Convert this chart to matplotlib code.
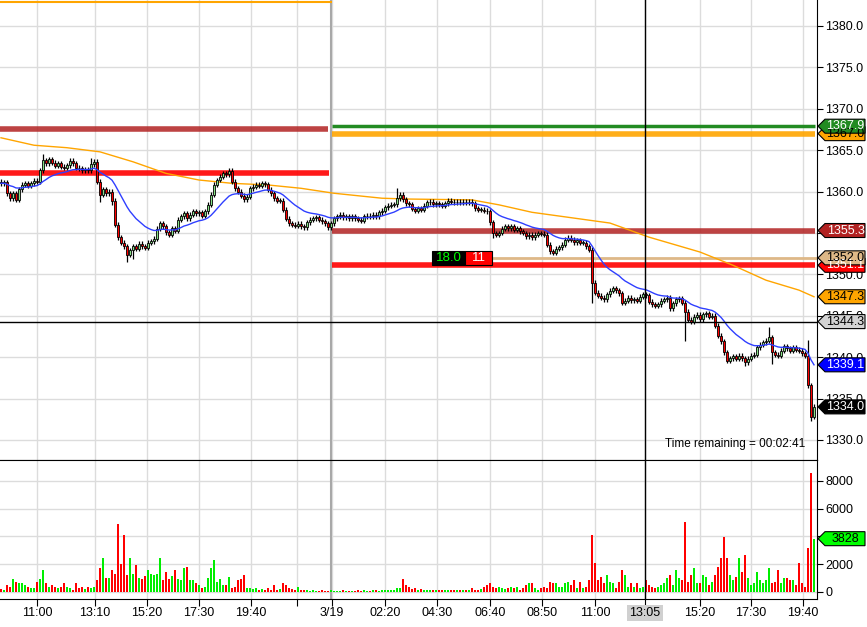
import matplotlib
matplotlib.use("Agg")
import matplotlib.pyplot as plt
import matplotlib.transforms as mtrans
from matplotlib.patches import Polygon, Rectangle
import numpy as np
import pandas as pd

plt.rcParams['font.family'] = ['Liberation Sans', 'DejaVu Sans']
plt.rcParams['font.size'] = 9

# ---- data (one candle per slot) ----
first_open = 1361.2
closes = [
    1361.0, 1361.1, 1359.8, 1359.2, 1359.8, 1359.0, 1360.3, 1360.8, 1361.0, 1360.7,
    1361.0, 1361.3, 1361.2, 1362.6, 1363.8, 1363.4, 1363.9, 1363.5, 1363.1, 1363.4,
    1363.0, 1362.9, 1363.2, 1363.7, 1363.4, 1362.9, 1362.8, 1362.6, 1362.7, 1362.6,
    1363.3, 1363.6, 1361.2, 1359.6, 1360.3, 1359.8, 1360.0, 1358.9, 1356.0, 1354.5,
    1353.8, 1353.4, 1352.4, 1352.9, 1353.4, 1353.1, 1353.7, 1353.4, 1353.2, 1353.8,
    1354.0, 1354.3, 1355.5, 1356.2, 1355.8, 1355.1, 1354.8, 1355.6, 1355.3, 1356.6,
    1357.0, 1357.4, 1356.8, 1357.2, 1357.6, 1357.4, 1357.5, 1357.1, 1357.6, 1358.4,
    1359.6, 1360.8, 1361.4, 1361.8, 1362.2, 1362.1, 1362.5, 1361.2, 1360.4, 1360.0,
    1359.5, 1359.1, 1359.4, 1360.4, 1360.6, 1360.8, 1360.7, 1361.0, 1360.9, 1360.2,
    1359.8, 1359.2, 1358.9, 1358.9, 1357.8, 1356.7, 1356.2, 1356.0, 1355.9, 1356.1,
    1355.8, 1355.7, 1356.3, 1356.6, 1356.8, 1356.9, 1356.6, 1356.4, 1356.2, 1355.7,
    1356.2, 1356.8, 1357.0, 1357.2, 1356.9, 1357.0, 1356.8, 1357.0, 1356.8, 1356.6,
    1356.5, 1357.0, 1357.1, 1357.0, 1357.2, 1357.0, 1357.5, 1357.7, 1358.1, 1358.3,
    1358.4, 1358.5, 1359.2, 1359.6, 1359.1, 1358.6, 1358.5, 1357.9, 1357.7, 1358.0,
    1357.8, 1358.3, 1358.7, 1358.8, 1358.5, 1358.6, 1358.5, 1358.3, 1358.6, 1358.9,
    1358.8, 1358.7, 1358.8, 1358.7, 1358.8, 1358.7, 1358.8, 1358.6, 1358.0, 1357.8,
    1357.8, 1357.7, 1357.6, 1356.3, 1355.0, 1354.8, 1355.0, 1355.5, 1355.8, 1355.6,
    1355.8, 1355.4, 1355.6, 1355.2, 1355.0, 1354.6, 1354.8, 1354.5, 1354.8, 1355.0,
    1354.9, 1354.8, 1353.6, 1352.8, 1352.6, 1353.1, 1353.3, 1353.6, 1354.2, 1354.4,
    1354.2, 1353.9, 1354.1, 1353.8, 1353.8, 1353.4, 1353.0, 1349.0, 1347.8, 1347.4,
    1347.2, 1347.0, 1347.6, 1348.0, 1348.3, 1348.1, 1347.7, 1346.6, 1346.8, 1347.2,
    1346.9, 1347.0, 1346.8, 1347.3, 1347.6, 1347.5, 1346.7, 1346.4, 1346.2, 1346.4,
    1346.8, 1347.0, 1347.2, 1345.9, 1346.5, 1347.0, 1347.1, 1346.6, 1345.5, 1344.5,
    1344.3, 1344.9, 1345.1, 1344.6, 1345.2, 1345.3, 1344.9, 1345.0, 1343.8, 1342.6,
    1341.9, 1340.6, 1339.6, 1339.9, 1340.1, 1339.8, 1340.2, 1339.9, 1339.4, 1339.8,
    1340.2, 1340.3, 1341.2, 1341.5, 1341.8, 1342.0, 1342.4, 1340.6, 1340.3, 1340.2,
    1340.8, 1341.3, 1341.1, 1340.8, 1341.2, 1340.9, 1340.8, 1340.5, 1340.2, 1336.6,
    1332.8, 1334.0,
]
# candles whose wick reaches well past the body: index -> (high, low)
long_wicks = {
    14: (1364.6, None), 30: (1364.0, None), 33: (None, 1358.7), 37: (None, 1358.4),
    42: (None, 1351.5), 44: (None, 1351.9), 76: (1362.8, None), 132: (1360.4, None),
    164: (None, 1354.4), 184: (None, 1352.3), 197: (None, 1346.6), 228: (None, 1342.0),
    248: (None, 1338.9), 256: (1343.6, None), 257: (None, 1339.2), 269: (1342.1, None),
    270: (None, 1332.3),
}
volumes = [
    200, 150, 450, 350, 950, 700, 600, 600, 450, 350, 250, 250,
    700, 950, 1550, 600, 350, 480, 360, 240, 360, 600,
    360, 240, 120, 600, 300, 360, 200, 360, 300, 360,
    850, 1680, 2400, 1000, 960, 1560, 1300, 4900, 2000, 4100,
    1200, 2400, 1300, 1900, 1000, 950, 1100, 1600, 1300, 1200,
    1300, 2400, 850, 1400, 950, 1100, 1550, 950, 850, 1700,
    1800, 850, 850, 600, 480, 240, 360, 960, 1700, 2280,
    720, 950, 480, 480, 1080, 240, 360, 850, 950, 1200,
    300, 250, 200, 240, 150, 200, 150, 250, 120, 500, 150, 200, 600, 480, 250, 200, 150, 360,
    150, 120, 100, 80, 100, 60, 80, 100, 60, 80, 120, 60, 80, 60, 100, 80, 60, 80, 60, 100,
    80, 100, 80, 60, 100, 120, 80, 100, 120, 150, 120, 150, 240,
    240, 900, 480, 360, 200, 240, 120, 200, 120, 120,
    150, 120, 150, 150, 120, 100, 150, 120, 120, 100, 150, 120,
    150, 100, 300, 150, 120, 200, 360, 480, 600, 360,
    240, 360, 240, 200, 240, 360, 240, 360, 150, 240,
    480, 600, 600, 240, 150, 240, 360, 240, 720, 600,
    600, 360, 360, 600, 720, 480, 840, 240, 720, 240,
    360, 840, 4100, 2100, 840, 1080, 600, 1200, 720, 600,
    300, 720, 1560, 1200, 360, 600, 360, 600, 240, 360,
    840, 480, 360, 240, 360, 480, 600, 960, 1200, 480,
    1560, 960, 840, 5040, 720, 1200, 1680, 600, 600, 1200,
    1080, 480, 720, 1200, 1800, 2400, 3960, 2400, 1200, 840,
    1080, 2400, 1440, 2640, 960, 480, 600, 1440, 840, 600,
    840, 1680, 600, 720, 1560, 600, 960, 960, 840, 840,
    480, 2100, 600, 360, 3120, 8590, 3828,
]
# slow moving average, read at a handful of candles
slow_ma_idx = [0, 11, 22, 33, 44, 55, 66, 77, 89, 100, 111, 127, 136, 157, 166, 177, 189, 203, 216, 233, 244, 255, 266, 271]
slow_ma_vals = [1366.5, 1365.6, 1365.3, 1364.8, 1363.6, 1362.2, 1361.4, 1361.0, 1360.8, 1360.4,
                1359.8, 1359.2, 1359.1, 1359.0, 1358.4, 1357.5, 1356.9, 1356.2, 1354.5, 1352.7,
                1351.1, 1349.3, 1348.1, 1347.3]

tick_labels = ['11:00', '13:10', '15:20', '17:30', '19:40', '', '3/19', '02:20', '04:30',
               '06:40', '08:50', '11:00', '13:05', '15:20', '17:30', '19:40']
tick_pos = [12.0, 31.3, 48.7, 66.0, 83.3, 98.7, 110.3, 128.0, 145.3, 163.0, 180.3, 198.0,
            214.7, 233.0, 250.0, 267.3]

# horizontal levels: day 1 (left) and day 2 (right)
day1_levels = [1367.5, 1362.3]
day2_levels = [1367.0, 1367.9, 1355.3, 1351.1]
zone_price = 1352.0
cursor_price = 1344.3
cursor_bar = 214.7
session_break = 110.0
stat_left, stat_right = '18.0', '11'

# ---- derived ----
n = min(len(closes), len(volumes))
closes = np.array(closes[:n])
volumes = np.array(volumes[:n])
opens = np.concatenate([[first_open], closes[:-1]])
highs = np.maximum(opens, closes) + 0.3
lows = np.minimum(opens, closes) - 0.3
for k, (h, l) in long_wicks.items():
    if k < n:
        if h is not None:
            highs[k] = h
        if l is not None:
            lows[k] = l
xs = np.arange(n)
up = closes >= opens
fast_ma = pd.Series(closes).ewm(span=18, adjust=False).mean().values

W, H = 867, 627
fig = plt.figure(figsize=(W / 100, H / 100), dpi=100)
ax_w = 817 / W
ax = fig.add_axes([0, (H - 460) / H, ax_w, 460 / H])
axv = fig.add_axes([0, (H - 599) / H, ax_w, (599 - 460) / H], sharex=ax)

px_price = 1 / 8.28
ax.set_ylim(1383.14 - 460 * px_price, 1383.14)
axv.set_ylim(-527, 9509)
ax.set_xlim(-0.33, 272.0)

grid_c = '#dcdcdc'
for a in (ax, axv):
    for tp in tick_pos:
        a.axvline(tp, color=grid_c, lw=1, zorder=0)
    a.axvline(session_break, color='#a8a8a8', lw=1.5, zorder=0.5)
for yv in range(1330, 1381, 5):
    ax.axhline(yv, color=grid_c, lw=1, zorder=0)
for yv in range(0, 8001, 2000):
    axv.axhline(yv, color=grid_c, lw=1, zorder=0)

# levels
x_end = 272.0
ax.hlines(day1_levels[0], -0.33, 109, color='#b22222', lw=4, alpha=0.85, zorder=2)
ax.hlines(day1_levels[1], -0.33, 109.5, color='#ff0000', lw=4, alpha=0.9, zorder=2)
ax.hlines(1382.95, -0.33, 110.3, color='#ffa500', lw=1.5, zorder=2)
ax.hlines(day2_levels[0], 110.2, 271.5, color='#ffa500', lw=4, alpha=0.9, zorder=2)
ax.hlines(day2_levels[1], 110.2, 271.5, color='#228b22', lw=2.5, zorder=2)
ax.hlines(day2_levels[2], 110.2, 271.5, color='#b22222', lw=4, alpha=0.85, zorder=2)
ax.hlines(day2_levels[3], 110.2, 271.5, color='#ff0000', lw=4, alpha=0.9, zorder=2)
ax.hlines(zone_price, 163.7, x_end, color='#deb887', lw=2, zorder=2)

# moving averages
ax.plot(slow_ma_idx, slow_ma_vals, color='#ffa500', lw=1, zorder=3)
ax.plot(xs, fast_ma, color='#2f3fff', lw=1, zorder=5)

# candles
ax.vlines(xs, lows, highs, color='black', lw=0.9, zorder=3)
body_h = np.maximum(np.abs(closes - opens), 0.08)
ax.bar(xs, body_h, bottom=np.minimum(opens, closes), width=0.72,
       color=np.where(up, '#86e086', '#ff0000'), edgecolor='black', lw=0.6, zorder=4)

# volume
axv.bar(xs, volumes, width=0.9, color=np.where(up, '#00ee00', '#ff0000'), lw=0, zorder=2)

# cursor
for a in (ax, axv):
    a.axvline(cursor_bar, color='black', lw=1, zorder=6)
ax.axhline(cursor_price, color='black', lw=1, zorder=6)

# small stat boxes on the zone line
box_h = 14 * px_price
ax.add_patch(Rectangle((143.7, zone_price - box_h / 2), 11.0, box_h, facecolor='black',
                       edgecolor='black', lw=0.8, zorder=7))
ax.add_patch(Rectangle((154.7, zone_price - box_h / 2), 9.0, box_h, facecolor='#ff0000',
                       edgecolor='black', lw=0.8, zorder=7))
ax.text(149.2, zone_price, stat_left, color='#00ff00', ha='center', va='center', fontsize=9.5, zorder=8)
ax.text(159.2, zone_price, stat_right, color='white', ha='center', va='center', fontsize=9.5, zorder=8)

ax.text(268.0, 1329.5, 'Time remaining = 00:02:41', ha='right', va='center', fontsize=8.5, zorder=8)

# axes styling
for a in (ax, axv):
    a.yaxis.tick_right()
    a.spines['left'].set_visible(False)
    a.tick_params(axis='y', which='both', length=4, pad=2, direction='out', labelsize=9)
ax.spines['top'].set_visible(False)
ax.tick_params(axis='x', length=0, labelbottom=False)
ax.set_yticks(np.arange(1330, 1381, 5))
ax.set_yticklabels(['%.1f' % v for v in np.arange(1330, 1381, 5)])
axv.set_yticks([0, 2000, 4000, 6000, 8000])
axv.set_yticklabels(['0', '2000', '4000', '6000', '8000'])
axv.set_xticks(tick_pos)
axv.set_xticklabels(tick_labels)
axv.tick_params(axis='x', length=5, pad=0.5, labelsize=9)
lbls = axv.get_xticklabels()
lbls[12].set_bbox(dict(facecolor='#d0d0d0', edgecolor='none', pad=1.5))


def tag(a, y, text, face, tc, unit):
    tr = mtrans.blended_transform_factory(a.transAxes, a.transData)
    fx = 1.0 / 817
    dy = 7 * unit
    verts = [(1 + 1 * fx, y), (1 + 8 * fx, y + dy), (1 + 48 * fx, y + dy),
             (1 + 48 * fx, y - dy), (1 + 8 * fx, y - dy)]
    a.add_patch(Polygon(verts, closed=True, transform=tr, facecolor=face, edgecolor='black',
                        lw=0.8, clip_on=False, zorder=9))
    a.text(1 + 28.5 * fx, y, text, transform=tr, color=tc, ha='center', va='center',
           fontsize=9, clip_on=False, zorder=10)


tag(ax, day2_levels[0], '%.1f' % day2_levels[0], '#ffa500', 'black', px_price)
tag(ax, day2_levels[1], '%.1f' % day2_levels[1], '#228b22', 'white', px_price)
tag(ax, day2_levels[3], '%.1f' % day2_levels[3], '#ff0000', 'white', px_price)
tag(ax, zone_price, '%.1f' % zone_price, '#deb887', 'black', px_price)
tag(ax, day2_levels[2], '%.1f' % day2_levels[2], '#b22222', 'white', px_price)
tag(ax, slow_ma_vals[-1], '%.1f' % slow_ma_vals[-1], '#ffa500', 'black', px_price)
tag(ax, cursor_price, '%.1f' % cursor_price, '#d3d3d3', 'black', px_price)
tag(ax, fast_ma[-1], '%.1f' % fast_ma[-1], '#0000ff', 'white', px_price)
tag(ax, closes[-1], '%.1f' % closes[-1], 'black', 'white', px_price)
tag(axv, volumes[-1], '%d' % volumes[-1], '#00ff00', 'black', 72.2)

fig.savefig('out.png', dpi=100)
